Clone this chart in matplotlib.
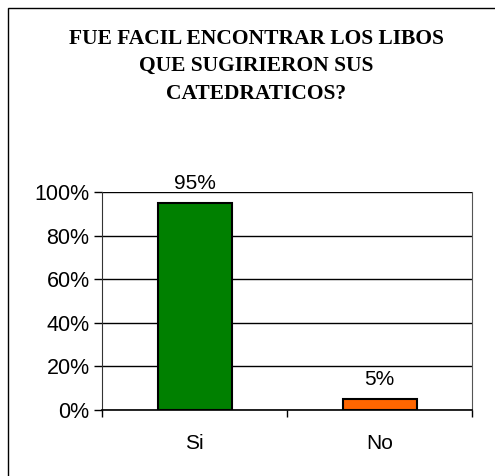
import matplotlib.pyplot as plt
from matplotlib.patches import Rectangle
from matplotlib.ticker import PercentFormatter


CATEGORIES = ["Si", "No"]
VALUES = [95, 5]
BAR_COLORS = ["#008000", "#FF6600"]
Y_TICKS = [0, 20, 40, 60, 80, 100]
TITLE = "FUE FACIL ENCONTRAR LOS LIBOS\nQUE SUGIRIERON SUS\nCATEDRATICOS?"


def main() -> None:
    fig = plt.figure(figsize=(4.95, 4.76), dpi=100)
    fig.patch.set_facecolor("white")

    # outer border of the chart area (cut off at right and bottom)
    fig.patches.append(
        Rectangle((8 / 495, -0.05), 1.2, (476 - 8) / 476 + 0.05,
                  transform=fig.transFigure, fill=False,
                  edgecolor="black", linewidth=1.0)
    )

    ax = fig.add_axes([102 / 495, 66 / 476, 370 / 495, 218 / 476])
    positions = list(range(len(CATEGORIES)))
    bars = ax.bar(positions, VALUES, width=0.4, color=BAR_COLORS,
                  edgecolor="black", linewidth=1.5, zorder=3)

    for bar, value in zip(bars, VALUES):
        ax.annotate(f"{value}%", (bar.get_x() + bar.get_width() / 2, value),
                    xytext=(0, 7), textcoords="offset points",
                    ha="center", va="bottom", fontsize=15,
                    family="Liberation Sans")

    ax.set_xlim(-0.5, 1.5)
    ax.set_ylim(0, 100)
    ax.set_yticks(Y_TICKS)
    ax.yaxis.set_major_formatter(PercentFormatter(100, decimals=0))
    ax.set_xticks([-0.5, 0.5, 1.5])
    ax.set_xticklabels([])
    ax.set_xticks(positions, minor=True)
    ax.set_xticklabels(CATEGORIES, minor=True)
    ax.tick_params(axis="x", which="minor", length=0, pad=17, labelsize=15)
    ax.tick_params(axis="x", which="major", length=5, width=1, direction="out")
    ax.tick_params(axis="y", length=6, width=1, direction="out", labelsize=15.5, pad=3)
    for label in ax.get_xticklabels(minor=True) + ax.get_yticklabels():
        label.set_family("Liberation Sans")

    ax.grid(axis="y", color="black", linewidth=1, zorder=0)
    ax.spines["top"].set_visible(False)
    ax.spines["right"].set_color("#555555")
    ax.spines["left"].set_color("#333333")
    ax.spines["bottom"].set_linewidth(1.2)

    fig.text(0.518, 0.94, TITLE, ha="center", va="top", fontsize=15.5,
             fontweight="bold", family="Liberation Serif", linespacing=1.52)

    fig.savefig("out.png", dpi=100)
    plt.close(fig)


if __name__ == "__main__":
    main()
